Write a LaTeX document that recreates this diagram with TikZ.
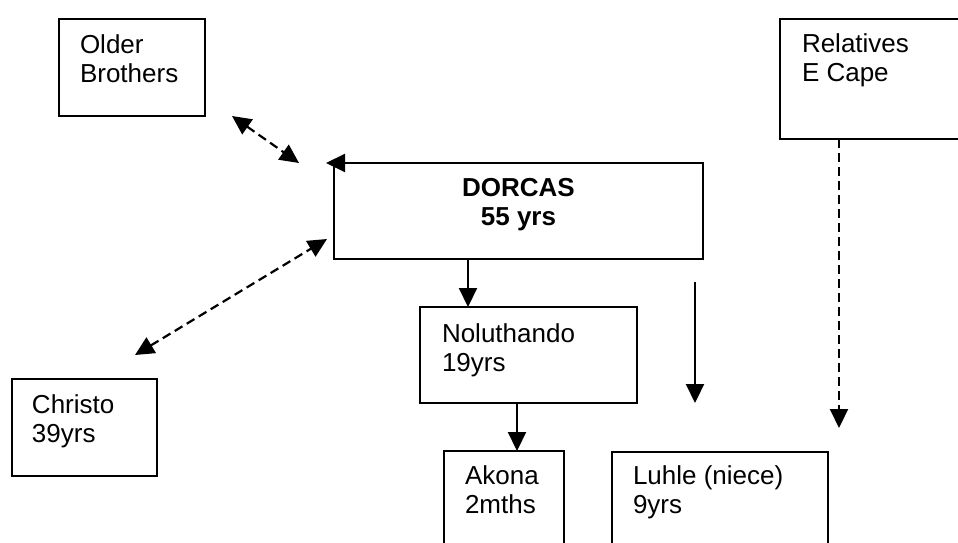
\documentclass[tikz,border=0pt]{standalone}
\usepackage{fontspec}
\setmainfont{Liberation Sans}
\usetikzlibrary{arrows.meta,calc}
\newcommand{\famcontent}[5]{\parbox[c][#2][t]{#1}{\raggedright\leftskip=#5\relax\rule{0pt}{#3}#4\par\vfill}}
\begin{document}
\begin{tikzpicture}[x=1pt,y=-1pt,
  font=\fontsize{26}{29.5}\selectfont,
  fam/.style={draw, line width=2.4pt, inner sep=0pt, outer sep=0pt, anchor=north west},
  tip/.tip={Triangle[length=19pt,width=18pt]},
  sarrow/.style={line width=2.2pt, -tip},
  darrow/.style={line width=2.2pt, dash pattern=on 9pt off 5pt, -tip},
  dboth/.style={line width=2.2pt, dash pattern=on 9pt off 5pt, tip-tip}]
\useasboundingbox (0,0) rectangle (958,543);

\node[fam] (ob)  at (59,19)   {\famcontent{146pt}{97pt}{34pt}{Older\\Brothers}{21pt}};
\node[fam] (rel) at (780,19)  {\famcontent{200pt}{120pt}{33pt}{Relatives\\E Cape}{22pt}};
\node[fam] (dor) at (334,163) {\parbox[c][96pt][t]{369pt}{\centering\bfseries\rule{0pt}{33pt}DORCAS\\55 yrs\par\vfill}};
\node[fam] (nol) at (420,307) {\famcontent{217pt}{96pt}{35pt}{Noluthando\\19yrs}{22pt}};
\node[fam] (chr) at (12,379)  {\famcontent{145pt}{97pt}{34pt}{Christo\\39yrs}{20pt}};
\node[fam] (ak)  at (444,451) {\famcontent{120pt}{100pt}{33pt}{Akona\\2mths}{21pt}};
\node[fam] (lu)  at (612,452) {\famcontent{216pt}{100pt}{32pt}{Luhle (niece)\\9yrs}{21pt}};

% Older Brothers <-> DORCAS
\coordinate (obA) at ($(ob.south east)+(27,0)$);
\coordinate (obB) at ($(dor.north west)+(-35,0)$);
\draw[dboth] (obA) -- (obB);

% Christo <-> DORCAS
\coordinate (chA) at ($(chr.north west)+(123,-24)$);
\coordinate (chB) at ($(dor.south west)+(-7,-20)$);
\draw[dboth] (chA) -- (chB);

% arrow on top edge of DORCAS
\coordinate (dtip) at ($(dor.north west)+(-8,0)$);
\draw[sarrow] (dor.north) -- (dtip);

% DORCAS -> Noluthando
\coordinate (nA) at ($(nol.north west)+(48,0)$);
\draw[sarrow] (dor.south -| nA) -- (nA);

% Noluthando -> Akona
\coordinate (aA) at ($(ak.north west)+(73,0)$);
\draw[sarrow] (nol.south -| aA) -- (aA);

% free vertical arrow
\coordinate (fA) at ($(dor.south east)+(-8,23)$);
\coordinate (fB) at ($(nol.south east)+(58,0)$);
\draw[sarrow] (fA) -- (fB);

% Relatives -> (dashed)
\coordinate (rA) at ($(rel.south west)+(59,0)$);
\coordinate (rB) at ($(lu.north east)+(11,-24)$);
\draw[darrow] (rA) -- (rB);
\end{tikzpicture}
\end{document}
